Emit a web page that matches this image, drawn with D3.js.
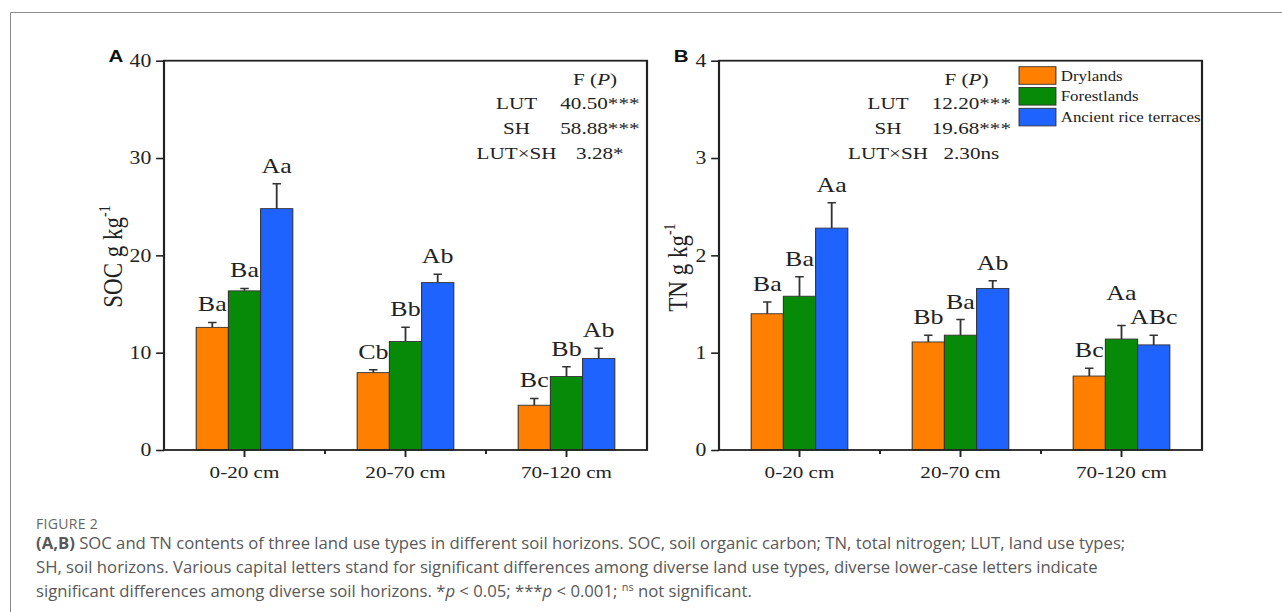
<!DOCTYPE html>
<html>
<head>
<meta charset="utf-8">
<script src="https://cdn.jsdelivr.net/npm/d3@7"></script>
<style>
  html, body { margin: 0; padding: 0; background: #fff; }
  svg { display: block; }
</style>
</head>
<body>
<svg id="fig" width="1282" height="612"></svg>
<script>
// Soil horizons (x categories) and land use types (series)
const horizons = ["0-20 cm", "20-70 cm", "70-120 cm"];
const landUses = ["Drylands", "Forestlands", "Ancient rice terraces"];
const seriesColors = ["#ff7f00", "#078a07", "#1f63ff"];

// SOC (g kg-1): means and standard errors per land use, by horizon
const socDrylands = [12.6, 7.95, 4.6];
const socForestlands = [16.35, 11.15, 7.55];
const socTerraces = [24.8, 17.2, 9.4];
const socErrDrylands = [0.5, 0.3, 0.7];
const socErrForestlands = [0.25, 1.45, 1.0];
const socErrTerraces = [2.55, 0.85, 1.05];
const socLetters = [["Ba", "Cb", "Bc"], ["Ba", "Bb", "Bb"], ["Aa", "Ab", "Ab"]];
const socTicks = [0, 10, 20, 30, 40];
const socAnova = [["LUT", "40.50***"], ["SH", "58.88***"], ["LUT×SH", "3.28*"]];

// TN (g kg-1)
const tnDrylands = [1.40, 1.11, 0.76];
const tnForestlands = [1.58, 1.18, 1.14];
const tnTerraces = [2.28, 1.66, 1.08];
const tnErrDrylands = [0.12, 0.07, 0.08];
const tnErrForestlands = [0.20, 0.16, 0.14];
const tnErrTerraces = [0.26, 0.08, 0.10];
const tnLetters = [["Ba", "Bb", "Bc"], ["Ba", "Ba", "Aa"], ["Aa", "Ab", "ABc"]];
const tnTicks = [0, 1, 2, 3, 4];
const tnAnova = [["LUT", "12.20***"], ["SH", "19.68***"], ["LUT×SH", "2.30ns"]];

const svg = d3.select("#fig");
const SERIF = "'Liberation Serif', 'Times New Roman', serif";
const INK = "#222";

// outer figure frame (left and top edges)
svg.append("path")
  .attr("d", "M10.5,612 V12.5 H1282")
  .attr("fill", "none").attr("stroke", "#8a8a8a").attr("stroke-width", 1);

// Each panel is laid out in a 400-wide local frame and widened horizontally.
const PW = 400, PH = 389.3, SX = 483 / 400;

function drawPanel(opts) {
  const g = svg.append("g")
    .attr("transform", `translate(${opts.x0},60.7) scale(${SX},1)`);

  const x = d3.scaleBand().domain(horizons).range([0, PW]);
  const inner = d3.scaleBand().domain(landUses)
    .range([x.bandwidth() * 0.2, x.bandwidth() * 0.8]);
  const y = d3.scaleLinear().domain(opts.domain).range([PH, 0]);

  const rows = [];
  landUses.forEach((s, si) => {
    horizons.forEach((h, hi) => {
      rows.push({ s, si, h, v: opts.means[si][hi], e: opts.errs[si][hi], lab: opts.letters[si][hi] });
    });
  });

  // bars
  g.selectAll("rect.bar").data(rows).join("rect")
    .attr("class", "bar")
    .attr("x", d => x(d.h) + inner(d.s))
    .attr("y", d => y(d.v))
    .attr("width", inner.bandwidth())
    .attr("height", d => PH - y(d.v))
    .attr("fill", d => seriesColors[d.si])
    .attr("stroke", "#333").attr("stroke-width", 0.9);

  // upper error bars
  const cx = d => x(d.h) + inner(d.s) + inner.bandwidth() / 2;
  g.selectAll("path.err").data(rows).join("path")
    .attr("class", "err")
    .attr("d", d => `M${cx(d)},${y(d.v)} V${y(d.v + d.e)} M${cx(d) - 3.5},${y(d.v + d.e)} H${cx(d) + 3.5}`)
    .attr("fill", "none").attr("stroke", "#333").attr("stroke-width", 1.5);

  // significance letters (one label lifted clear of its neighbour)
  const lift = d => (opts.lift && opts.lift[d.s + "|" + d.h]) || 0;
  g.selectAll("text.lab").data(rows).join("text")
    .attr("class", "lab")
    .attr("x", cx)
    .attr("y", d => y(d.v + d.e) - 11 - lift(d))
    .attr("text-anchor", "middle")
    .attr("font-family", SERIF).attr("font-size", 21.5).attr("fill", INK)
    .text(d => d.lab);

  // y axis
  const ya = g.append("g").call(d3.axisLeft(y).tickValues(opts.ticks).tickSize(6.5).tickPadding(4).tickFormat(d3.format("d")));
  ya.select(".domain").remove();
  ya.selectAll("line").attr("stroke", INK).attr("stroke-width", 1.6);
  ya.selectAll("text").attr("font-family", SERIF).attr("font-size", 18).attr("fill", INK);

  // x axis with major ticks at categories and minor ticks between groups
  const xa = g.append("g").attr("transform", `translate(0,${PH})`)
    .call(d3.axisBottom(x).tickSize(7).tickPadding(9));
  xa.select(".domain").remove();
  xa.selectAll("line").attr("stroke", INK).attr("stroke-width", 1.6);
  xa.selectAll("text").attr("font-family", SERIF).attr("font-size", 17.5).attr("fill", INK);
  g.selectAll("line.minor").data(horizons.slice(1)).join("line")
    .attr("class", "minor")
    .attr("x1", d => x(d)).attr("x2", d => x(d))
    .attr("y1", PH).attr("y2", PH + 4)
    .attr("stroke", INK).attr("stroke-width", 1.6);

  // frame
  g.append("rect").attr("x", 0).attr("y", 0).attr("width", PW).attr("height", PH)
    .attr("fill", "none").attr("stroke", INK).attr("stroke-width", 1.8);

  // y title
  const t = g.append("text")
    .attr("transform", `translate(${opts.titleX},${opts.titleY}) rotate(-90)`)
    .attr("font-family", SERIF).attr("font-size", 23).attr("fill", INK);
  t.append("tspan").text(opts.title + " g kg");
  t.append("tspan").attr("font-size", 14).attr("dy", -10).text("-1");

  // panel letter
  g.append("text").attr("x", opts.letterX).attr("y", 1.5)
    .attr("font-family", "'Liberation Sans', Arial, sans-serif").attr("font-weight", "bold")
    .attr("font-size", 17).attr("fill", "#111").text(opts.letter);

  // two-way ANOVA table
  const at = g.append("g").attr("font-family", SERIF).attr("font-size", 17.5).attr("fill", INK);
  const head = at.append("text").attr("x", opts.valX - 4).attr("y", 24.5).attr("text-anchor", "middle");
  head.append("tspan").text("F (");
  head.append("tspan").attr("font-style", "italic").text("P");
  head.append("tspan").text(")");
  const rowY = [48.7, 73.5, 98.3];
  opts.anova.forEach((r, i) => {
    at.append("text").attr("x", opts.labX).attr("y", rowY[i]).attr("text-anchor", "middle").text(r[0]);
    at.append("text").attr("x", opts.valX).attr("y", rowY[i]).attr("text-anchor", "middle").text(r[1]);
  });

  return g;
}

drawPanel({
  x0: 164, domain: [0, 40], ticks: socTicks,
  means: [socDrylands, socForestlands, socTerraces],
  errs: [socErrDrylands, socErrForestlands, socErrTerraces],
  letters: socLetters, anova: socAnova,
  title: "SOC", titleX: -35, titleY: 247, letter: "A", letterX: -46,
  labX: 292, valX: 361
});

const gB = drawPanel({
  x0: 719, domain: [0, 4], ticks: tnTicks,
  means: [tnDrylands, tnForestlands, tnTerraces],
  errs: [tnErrDrylands, tnErrForestlands, tnErrTerraces],
  letters: tnLetters, anova: tnAnova,
  title: "TN", titleX: -26.5, titleY: 251, letter: "B", letterX: -37.5,
  labX: 140, valX: 209,
  lift: { "Forestlands|70-120 cm": 14 }
});

// legend (panel B)
const leg = gB.append("g").attr("transform", "translate(248.5,6)");
landUses.forEach((s, i) => {
  leg.append("rect").attr("x", 0).attr("y", i * 20.8).attr("width", 30.5).attr("height", 17.6)
    .attr("fill", seriesColors[i]).attr("stroke", "#333").attr("stroke-width", 0.9);
  leg.append("text").attr("x", 34.5).attr("y", i * 20.8 + 14)
    .attr("font-family", SERIF).attr("font-size", 14).attr("fill", INK).text(s);
});

// caption
const SANS = "'Open Sans', 'Noto Sans', sans-serif";
const CX = 36;
const cap = svg.append("g").attr("font-family", SANS).attr("fill", "#585858");
cap.append("text").attr("x", CX).attr("y", 529).attr("font-size", 14)
  .attr("letter-spacing", 0.3).attr("fill", "#666").text("FIGURE 2");

const l1 = cap.append("text").attr("x", CX).attr("y", 548.5).attr("font-size", 16.7);
l1.append("tspan").attr("font-weight", "bold").text("(A,B)");
l1.append("tspan").text(" SOC and TN contents of three land use types in different soil horizons. SOC, soil organic carbon; TN, total nitrogen; LUT, land use types;");

cap.append("text").attr("x", CX).attr("y", 572.5).attr("font-size", 16.7)
  .text("SH, soil horizons. Various capital letters stand for significant differences among diverse land use types, diverse lower-case letters indicate");

const l3 = cap.append("text").attr("x", CX).attr("y", 596.5).attr("font-size", 16.7);
l3.append("tspan").text("significant differences among diverse soil horizons. *");
l3.append("tspan").attr("font-style", "italic").text("p");
l3.append("tspan").text(" < 0.05; ***");
l3.append("tspan").attr("font-style", "italic").text("p");
l3.append("tspan").text(" < 0.001; ");
l3.append("tspan").attr("font-size", 11).attr("dy", -6).text("ns");
l3.append("tspan").attr("dy", 6).text(" not significant.");
</script>
</body>
</html>
